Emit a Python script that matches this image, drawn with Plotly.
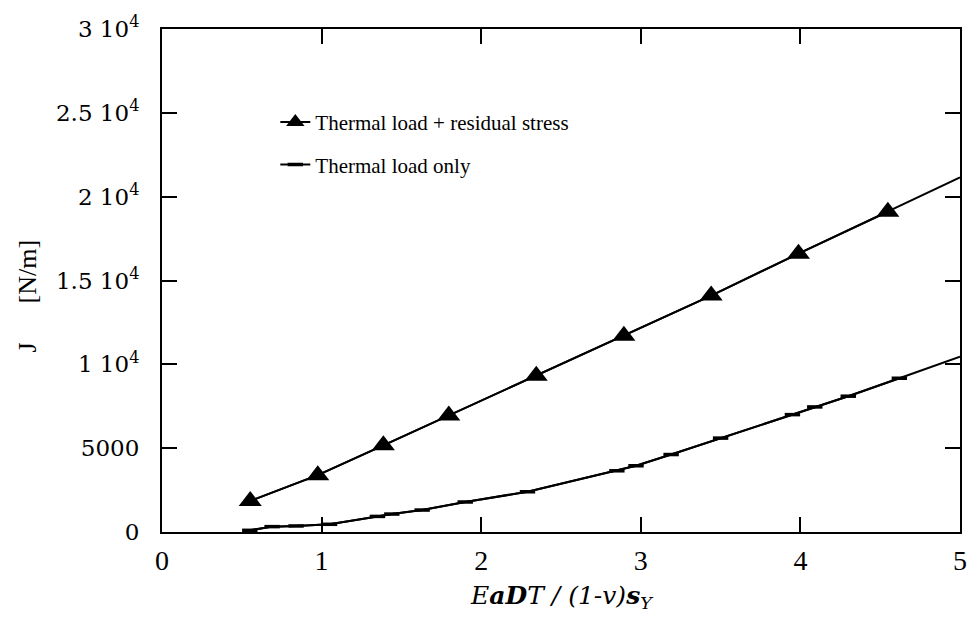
import plotly.graph_objects as go

# Thermal load + residual stress
res_x = [0.553, 0.976, 1.387, 1.797, 2.345, 2.894, 3.441, 3.988, 4.548]
res_y = [1850, 3390, 5170, 6950, 9320, 11700, 14100, 16600, 19100]
res_end_x = [5.0]
res_end_y = [21150]

# Thermal load only
th_x = [0.55, 0.69, 0.84, 1.05, 1.35, 1.44, 1.63, 1.90, 2.29, 2.85, 2.97,
        3.19, 3.50, 3.95, 4.09, 4.30, 4.62]
th_y = [100, 320, 360, 460, 930, 1070, 1310, 1790, 2400, 3650, 3950,
        4620, 5600, 7000, 7460, 8100, 9170]
th_end_x = [5.0]
th_end_y = [10450]

x_ticks = [0, 1, 2, 3, 4, 5]
y_ticks = [0, 5000, 10000, 15000, 20000, 25000, 30000]
y_ticktext = ["0", "5000", "1 10<sup>4</sup>", "1.5 10<sup>4</sup>",
              "2 10<sup>4</sup>", "2.5 10<sup>4</sup>", "3 10<sup>4</sup>"]

TIMES = "Liberation Serif, Times New Roman, Times, serif"
SCHOOL = "DejaVu Serif, serif"

fig = go.Figure()

# line continuations to the frame edge
fig.add_trace(go.Scatter(x=res_x + res_end_x, y=res_y + res_end_y, mode="lines",
                         line=dict(color="black", width=2), showlegend=False,
                         hoverinfo="skip"))
fig.add_trace(go.Scatter(x=th_x + th_end_x, y=th_y + th_end_y, mode="lines",
                         line=dict(color="black", width=2), showlegend=False,
                         hoverinfo="skip"))

fig.add_trace(go.Scatter(x=res_x, y=res_y, mode="lines+markers",
                         name="Thermal load + residual stress",
                         legendgroup="a",
                         line=dict(color="black", width=2),
                         marker=dict(symbol="triangle-up", size=20, color="black")))
fig.add_trace(go.Scatter(x=th_x, y=th_y, mode="lines+markers",
                         name="Thermal load only",
                         legendgroup="b",
                         line=dict(color="black", width=2),
                         marker=dict(symbol="line-ew", size=11, color="black",
                                     line=dict(color="black", width=3.5))))

axis_common = dict(showgrid=False, zeroline=False, showline=True, linecolor="black",
                   linewidth=2, mirror="ticks", ticks="inside", ticklen=15,
                   tickwidth=1.5, tickcolor="black")

fig.update_xaxes(range=[0, 5], tickvals=x_ticks, ticktext=[str(v) for v in x_ticks],
                 tickfont=dict(family=TIMES, size=28, color="black"),
                 ticklabelstandoff=2, **axis_common)
fig.update_yaxes(range=[0, 30000], tickvals=y_ticks, ticktext=y_ticktext,
                 tickfont=dict(family=SCHOOL, size=23, color="black"),
                 ticklabelstandoff=16, **axis_common)

fig.add_annotation(text="<i>E<b>aD</b>T / (1-v)<b>s</b><sub>Y</sub></i>",
                   xref="paper", yref="paper", x=0.5, y=-0.13,
                   xanchor="center", yanchor="middle", showarrow=False,
                   font=dict(family=SCHOOL, size=25, color="black"))
fig.add_annotation(text="J\u00a0\u00a0\u00a0\u00a0\u00a0\u00a0[N/m]",
                   xref="paper", yref="paper", x=-0.168, y=0.47,
                   xanchor="center", yanchor="middle", showarrow=False,
                   textangle=-90,
                   font=dict(family=TIMES, size=26, color="black"))

fig.update_layout(
    width=979, height=631,
    margin=dict(l=162, r=13, t=28, b=99),
    paper_bgcolor="white", plot_bgcolor="white",
    showlegend=True,
    legend=dict(x=0.142, y=0.855, xanchor="left", yanchor="top",
                bgcolor="rgba(0,0,0,0)", traceorder="grouped", tracegroupgap=12,
                font=dict(family=TIMES, size=21, color="black")),
)

fig.write_html("out.html")
